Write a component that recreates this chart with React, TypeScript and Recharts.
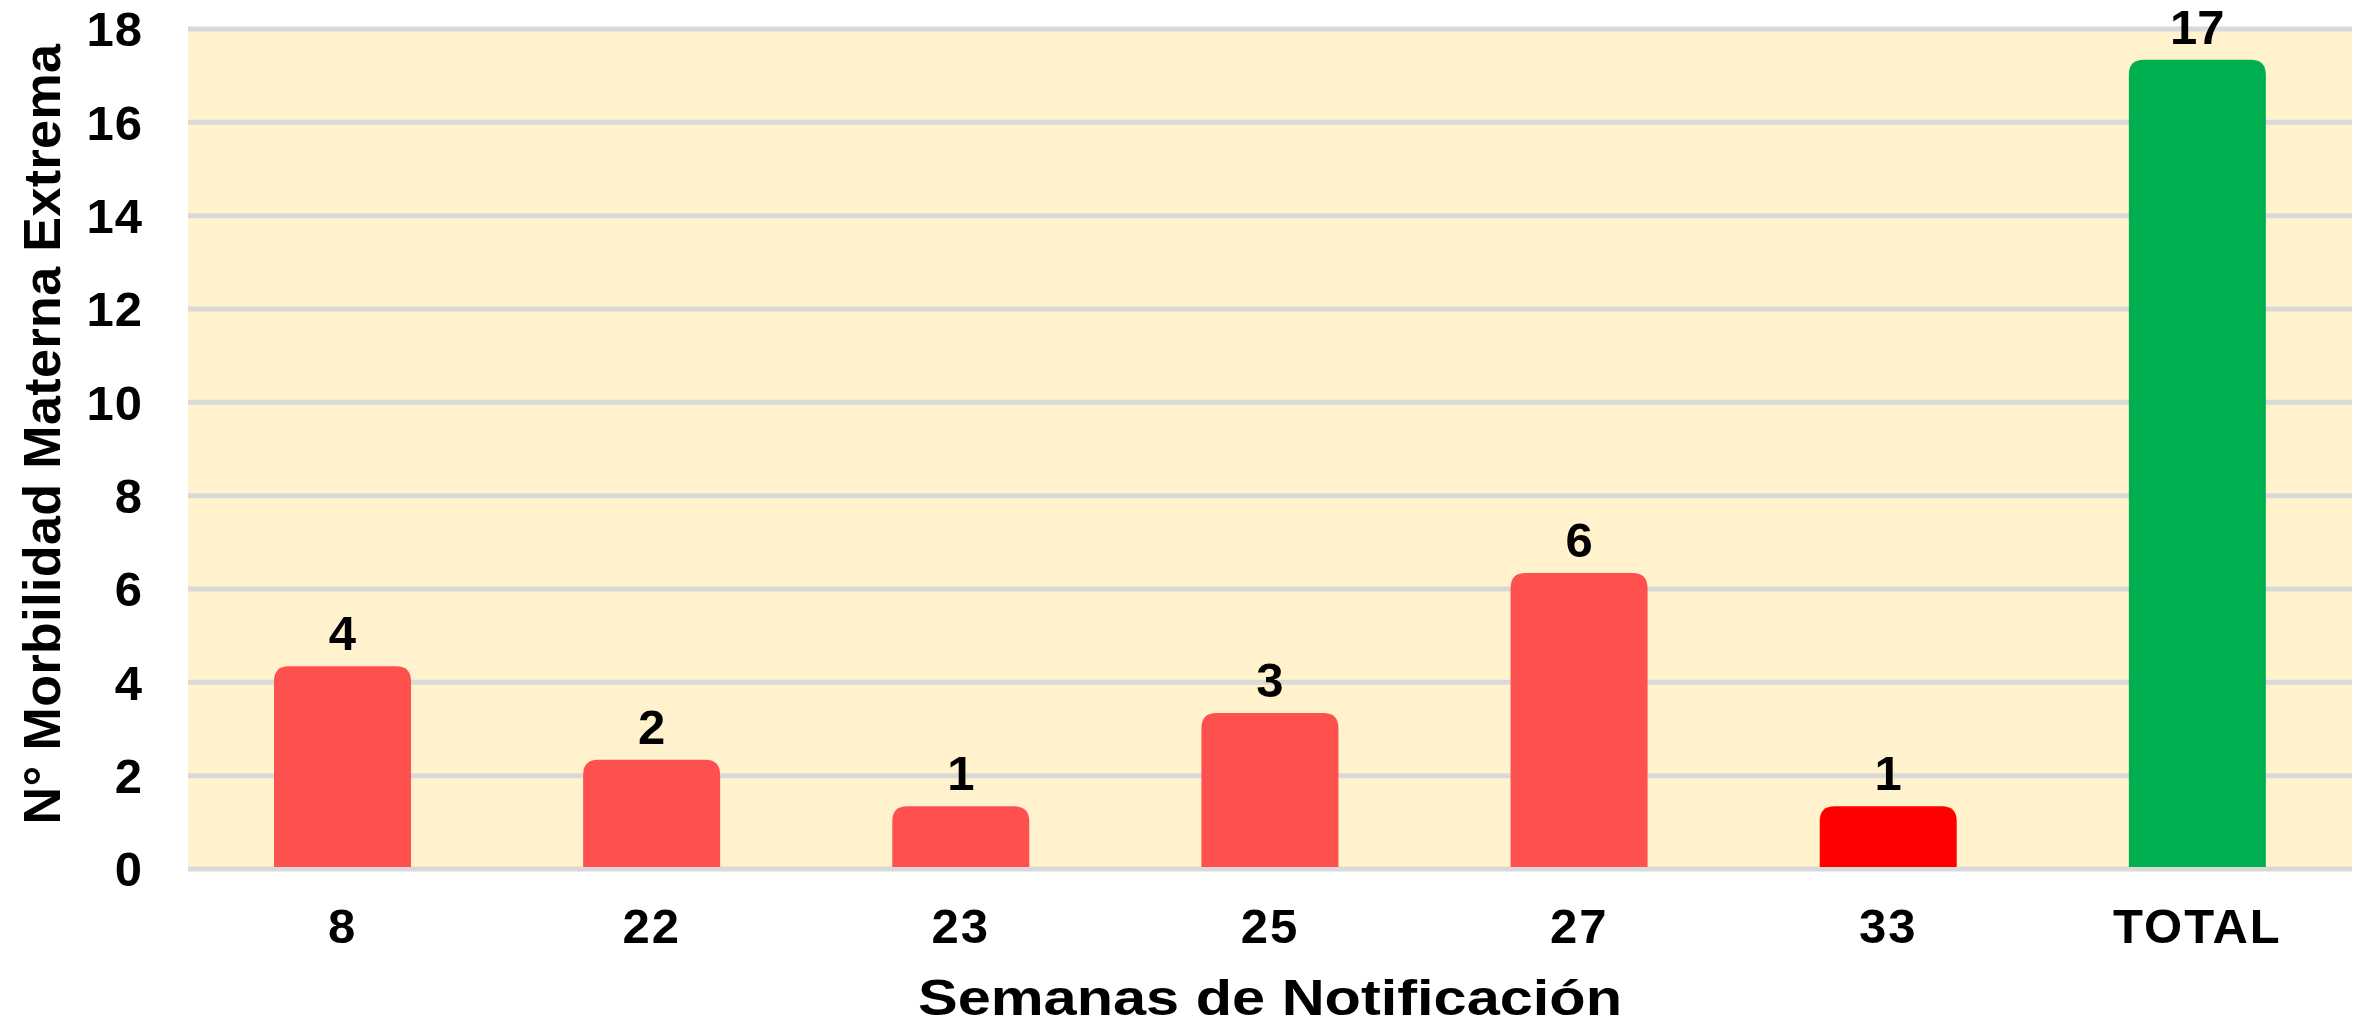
import React from 'react';
import { BarChart, Bar, XAxis, YAxis, CartesianGrid, LabelList, Cell, Label } from 'recharts';

const categories = ['8', '22', '23', '25', '27', '33', 'TOTAL'];
const values = [4, 2, 1, 3, 6, 1, 17];
const barColors = ['#FF5050', '#FF5050', '#FF5050', '#FF5050', '#FF5050', '#FF0000', '#00B050'];
const yTicks = [0, 2, 4, 6, 8, 10, 12, 14, 16, 18];

const data = categories.map((c, i) => ({ week: c, value: values[i] }));

const FONT = '"Liberation Sans", Arial, Helvetica, sans-serif';

const RoundedTopBar = (props: any) => {
  const { x, y, width, height, index } = props;
  const fill = props.fill && props.fill !== '#8884d8' ? props.fill : barColors[index];
  const ext = 16;
  const r = 15;
  const top = y - ext;
  const bottom = y + height - 2;
  const d = `M${x},${bottom} L${x},${top + r} Q${x},${top} ${x + r},${top} L${x + width - r},${top} Q${x + width},${top} ${x + width},${top + r} L${x + width},${bottom} Z`;
  return <path d={d} fill={fill} />;
};

const YTitle = (props: any) => {
  const vb = props.viewBox || { x: 0, y: 0 };
  const cx = vb.x + 42;
  const cy = 434;
  return (
    <text
      x={cx}
      y={cy}
      transform={`rotate(-90 ${cx} ${cy})`}
      textAnchor="middle"
      dy="0.355em"
      style={{ fontFamily: FONT, fontWeight: 700, fontSize: 52, fill: '#000', letterSpacing: 0.4 }}
    >
      N° Morbilidad Materna Extrema
    </text>
  );
};

const XTitle = (props: any) => {
  const vb = props.viewBox || { x: 0, y: 0, width: 0, height: 0 };
  const cx = vb.x + vb.width / 2;
  const by = vb.y + vb.height - 11;
  return (
    <text
      transform={`translate(${cx} ${by}) scale(1.19 1)`}
      x={0}
      y={0}
      textAnchor="middle"
      style={{ fontFamily: FONT, fontWeight: 700, fontSize: 50, fill: '#000' }}
    >
      Semanas de Notificación
    </text>
  );
};

export default function App() {
  return (
    <div style={{ width: 2369, height: 1026, margin: '-8px 0 0 -8px', background: '#fff' }}>
      <BarChart
        width={2369}
        height={1026}
        data={data}
        margin={{ top: 29, right: 17, bottom: 0, left: 0 }}
        barSize={137}
      >
        <CartesianGrid vertical={false} fill="#FFF2CC" stroke="#D9D9D9" strokeWidth={5} />
        <XAxis
          dataKey="week"
          height={157}
          axisLine={false}
          tickLine={false}
          tickSize={0}
          tickMargin={39}
          tick={{ fontFamily: FONT, fontWeight: 700, fontSize: 49, fill: '#000', letterSpacing: 2 }}
          interval={0}
        >
          <Label content={<XTitle />} />
        </XAxis>
        <YAxis
          width={188}
          domain={[0, 18]}
          ticks={yTicks}
          interval={0}
          axisLine={false}
          tickLine={false}
          tickSize={0}
          tickMargin={45}
          tick={{ fontFamily: FONT, fontWeight: 700, fontSize: 49, fill: '#000', letterSpacing: 1 }}
        >
          <Label content={<YTitle />} />
        </YAxis>
        <Bar dataKey="value" isAnimationActive={false} shape={<RoundedTopBar />}>
          {data.map((d, i) => (
            <Cell key={d.week} fill={barColors[i]} />
          ))}
          <LabelList
            dataKey="value"
            position="top"
            offset={32}
            style={{ fontFamily: FONT, fontWeight: 700, fontSize: 49, fill: '#000' }}
          />
        </Bar>
      </BarChart>
    </div>
  );
}
